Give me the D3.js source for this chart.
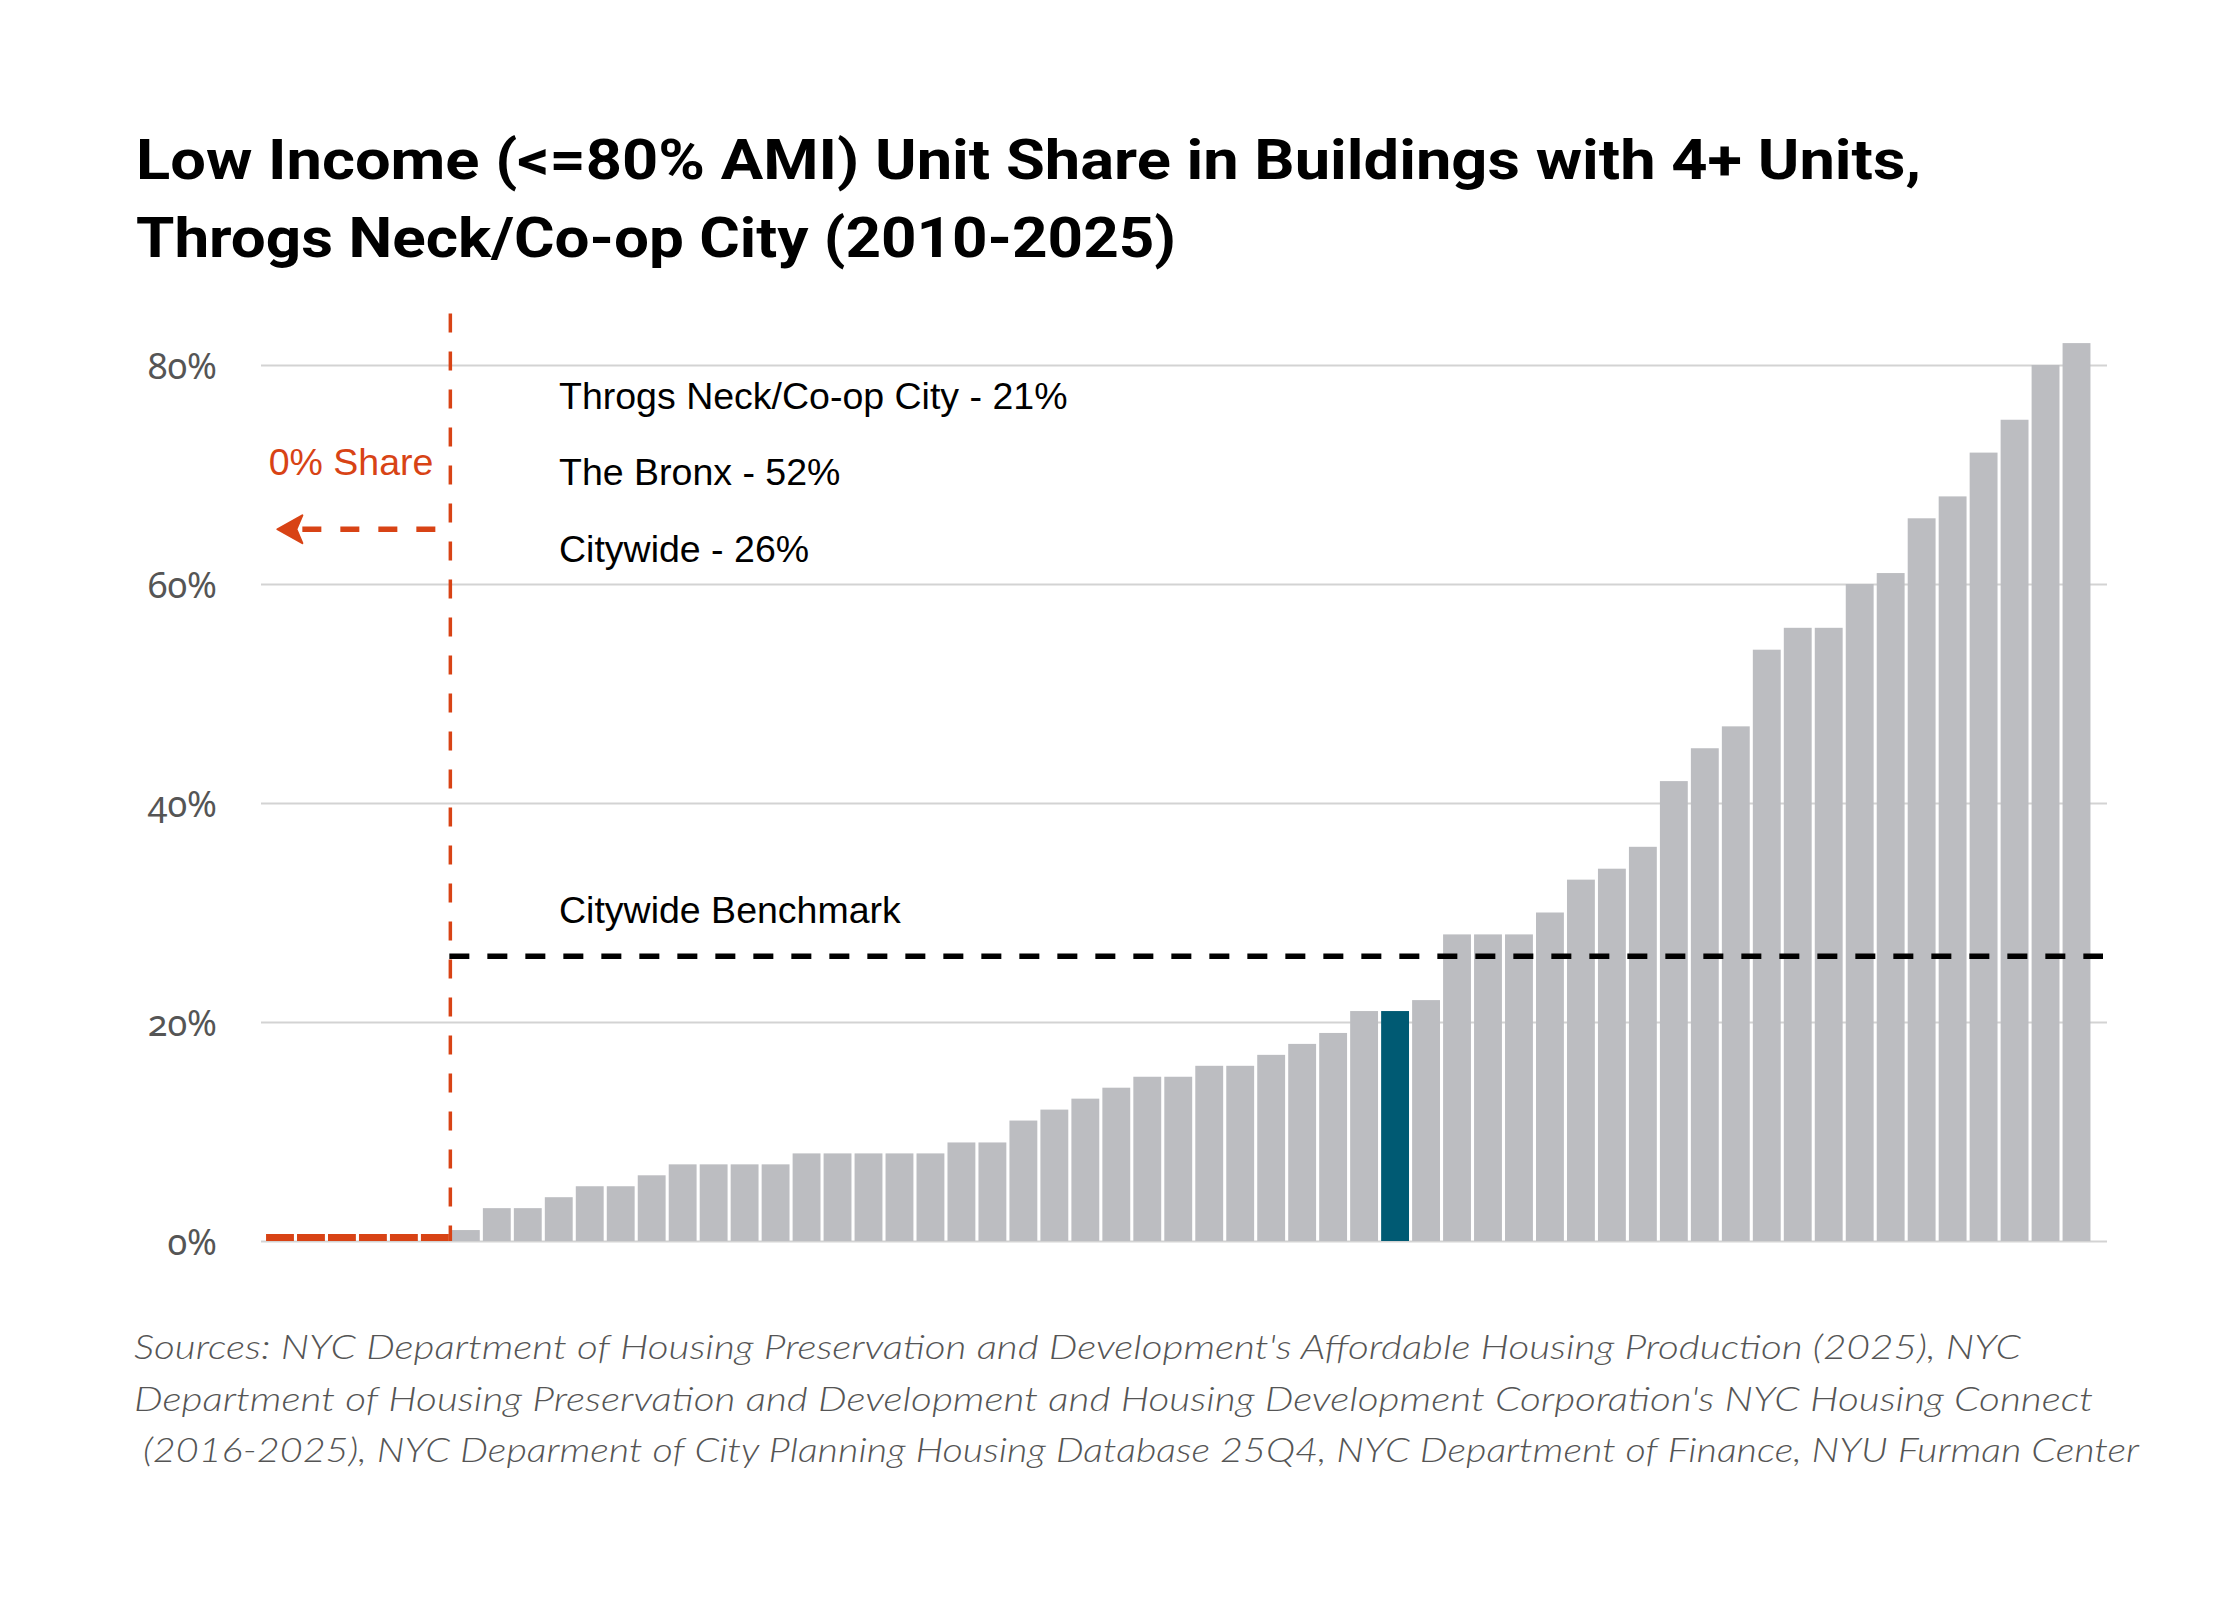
<!DOCTYPE html>
<html>
<head>
<meta charset="UTF-8">
<title>Low Income Unit Share</title>
<script src="https://cdn.jsdelivr.net/npm/d3@7"></script>
<style>
  body { margin: 0; background: #fff; }
  svg { display: block; }
</style>
</head>
<body>
<svg id="chart"></svg>
<script>
// one bar per community district, sorted; the first six have no low income units
var shares = [0, 0, 0, 0, 0, 0,
    1, 3, 3, 4, 5, 5, 6, 7, 7, 7, 7, 8, 8, 8, 8, 8, 9, 9, 11, 12, 13, 14, 15, 15,
    16, 16, 17, 18, 19, 21, 21, 22, 28, 28, 28, 30, 33, 34, 36, 42, 45, 47, 54, 56,
    56, 60, 61, 66, 68, 72, 75, 80, 82];
var highlightIndex = 36;   // Throgs Neck/Co-op City
var benchmark = 26;        // citywide share
var yTicks = [0, 20, 40, 60, 80];

var titleLines = [
    "Low Income (<=80% AMI) Unit Share in Buildings with 4+ Units,",
    "Throgs Neck/Co-op City (2010-2025)"
];
var noteLines = [
    {text: "Throgs Neck/Co-op City - 21%", at: 76},
    {text: "The Bronx - 52%", at: 69},
    {text: "Citywide - 26%", at: 62}
];
var sourceLines = [
    "Sources: NYC Department of Housing Preservation and Development's Affordable Housing Production (2025), NYC",
    "Department of Housing Preservation and Development and Housing Development Corporation's NYC Housing Connect",
    "(2016-2025), NYC Deparment of City Planning Housing Database 25Q4, NYC Department of Finance, NYU Furman Center"
];

var w = 2240, h = 1600;
var grey = "#bcbdc1", teal = "#005a73", red = "#d84315";

var svg = d3.select("svg#chart").attr("width", w).attr("height", h);
svg.append("rect").attr("width", w).attr("height", h).attr("fill", "#fff");

var x = d3.scaleBand()
    .domain(d3.range(shares.length))
    .range([264.5, 2092])
    .paddingInner(0.1)
    .paddingOuter(0.05);

var y = d3.scaleLinear().domain([0, 80]).range([1241, 365]);

// title
svg.append("g").selectAll("text").data(titleLines).enter().append("text")
    .attr("x", 136)
    .attr("y", function (d, i) { return 179 + i * 78; })
    .attr("textLength", function (d, i) { return i == 0 ? 1785 : 1040; })
    .attr("lengthAdjust", "spacingAndGlyphs")
    .style("font-family", "Roboto, 'Liberation Sans', sans-serif")
    .style("font-weight", "700")
    .style("font-size", "55px")
    .style("fill", "#000")
    .text(function (d) { return d; });

// gridlines + y labels
var gridLeft = 261, gridRight = 2107;
var yAxis = svg.append("g")
    .attr("transform", "translate(" + gridLeft + ",0)")
    .call(d3.axisLeft(y)
        .tickValues(yTicks)
        .tickSize(-(gridRight - gridLeft))
        .tickPadding(44)
        .tickFormat(function (d) { return d + "%"; }));
yAxis.select(".domain").remove();
yAxis.selectAll(".tick line").attr("stroke", "#d3d3d3").attr("stroke-width", 2);
yAxis.selectAll(".tick text")
    .attr("dy", "0.38em")
    .style("font-family", "'Noto Sans', 'Open Sans', sans-serif")
    .style("font-variant-numeric", "oldstyle-nums")
    .style("font-size", "36px")
    .style("fill", "#555");

// bars
var zeroStub = 7;
svg.append("g").selectAll("rect").data(shares).enter().append("rect")
    .attr("x", function (d, i) { return x(i); })
    .attr("width", x.bandwidth())
    .attr("y", function (d) { return d == 0 ? y(0) - zeroStub : y(d); })
    .attr("height", function (d) { return d == 0 ? zeroStub : y(0) - y(d); })
    .attr("fill", function (d, i) {
        if (d == 0) return red;
        return i == highlightIndex ? teal : grey;
    });

// divider between zero-share districts and the rest
var firstNonZero = shares.findIndex(function (d) { return d > 0; });
var divX = x(firstNonZero) - x.step() * x.paddingInner() / 2;

svg.append("line")
    .attr("x1", divX).attr("x2", divX)
    .attr("y1", y(84.7)).attr("y2", y(0))
    .attr("stroke", red)
    .attr("stroke-width", 3.5)
    .attr("stroke-dasharray", "19,19");

// benchmark
svg.append("line")
    .attr("x1", divX - 1).attr("x2", 2103)
    .attr("y1", y(benchmark)).attr("y2", y(benchmark))
    .attr("stroke", "#000")
    .attr("stroke-width", 5.5)
    .attr("stroke-dasharray", "20,18");

svg.append("text")
    .attr("x", 559)
    .attr("y", y(29))
    .style("font-family", "'Liberation Sans', Arial, sans-serif")
    .style("font-size", "37.5px")
    .style("fill", "#000")
    .text("Citywide Benchmark");

// notes
svg.append("g").selectAll("text").data(noteLines).enter().append("text")
    .attr("x", 559)
    .attr("y", function (d) { return y(d.at); })
    .style("font-family", "'Liberation Sans', Arial, sans-serif")
    .style("font-size", "37.5px")
    .style("fill", "#000")
    .text(function (d) { return d.text; });

// 0% share arrow
svg.append("text")
    .attr("x", divX - 17)
    .attr("y", y(70))
    .attr("text-anchor", "end")
    .style("font-family", "'Liberation Sans', Arial, sans-serif")
    .style("font-size", "37.5px")
    .style("fill", red)
    .text("0% Share");

var arrowY = y(65);
svg.append("line")
    .attr("x1", divX - 15).attr("x2", divX - 150)
    .attr("y1", arrowY).attr("y2", arrowY)
    .attr("stroke", red)
    .attr("stroke-width", 5.5)
    .attr("stroke-dasharray", "19,19");
svg.append("path")
    .attr("d", d3.line()([
        [divX - 173, arrowY],
        [divX - 148, arrowY - 14],
        [divX - 154, arrowY],
        [divX - 148, arrowY + 14]
    ]) + "Z")
    .attr("fill", red)
    .attr("stroke", red)
    .attr("stroke-width", 2)
    .attr("stroke-linejoin", "round");

// sources
var srcX = [134, 134, 143], srcLen = [1887, 1959, 1996];
svg.append("g").selectAll("text").data(sourceLines).enter().append("text")
    .attr("x", function (d, i) { return srcX[i]; })
    .attr("y", function (d, i) { return 1359 + i * 51.5; })
    .attr("textLength", function (d, i) { return srcLen[i]; })
    .attr("lengthAdjust", "spacingAndGlyphs")
    .style("font-family", "Lato, 'Open Sans', sans-serif")
    .style("font-style", "italic")
    .style("font-weight", "300")
    .style("font-size", "34px")
    .style("fill", "#555")
    .text(function (d) { return d; });
</script>
</body>
</html>
